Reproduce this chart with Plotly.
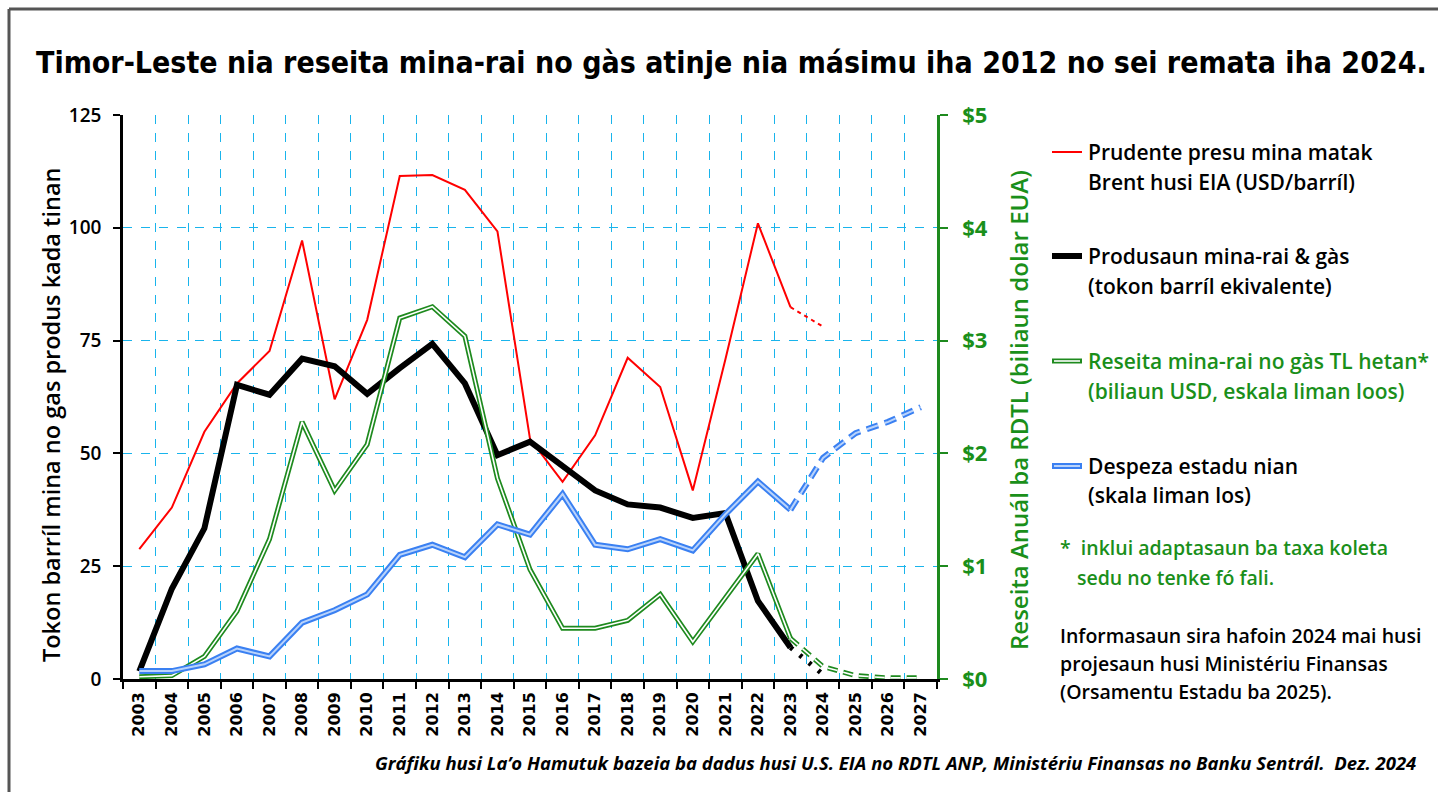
import plotly.graph_objects as go

# ---------------- data ----------------
years = list(range(2003, 2028))
year_labels = [str(y) for y in years]
hist_years = years[:21]                # 2003-2023
proj_years_short = [2023, 2024]
proj_years_long = years[20:]           # 2023-2027

# Brent prudent price (USD/barrel), left axis
brent_price = [28.8, 38.0, 54.8, 65.5, 72.7, 97.2, 62.0, 79.6, 111.5, 111.7, 108.4,
               99.2, 53.2, 43.7, 54.0, 71.2, 64.7, 41.8, 70.8, 101.0, 82.4]
brent_price_2024 = 78.1

# Oil & gas production (million barrels equivalent), left axis
production = [1.7, 20.0, 33.4, 65.2, 63.0, 71.0, 69.3, 63.2, 68.9, 74.3, 65.5,
              49.6, 52.6, 47.3, 41.8, 38.7, 38.0, 35.7, 36.8, 17.3, 7.0]
production_2024 = 1.0

# Petroleum revenue (billion USD), right axis
revenue = [0.02, 0.03, 0.20, 0.60, 1.24, 2.28, 1.67, 2.08, 3.20, 3.30, 3.04,
           1.78, 0.97, 0.45, 0.45, 0.52, 0.75, 0.33, 0.72, 1.11, 0.36]
revenue_proj = [0.11, 0.03, 0.01, 0.01]      # 2024-2027

# State spending (billion USD), right axis
spending = [0.07, 0.07, 0.13, 0.27, 0.20, 0.50, 0.61, 0.75, 1.10, 1.19, 1.08,
            1.37, 1.28, 1.64, 1.19, 1.15, 1.24, 1.14, 1.46, 1.75, 1.50]
spending_proj = [1.96, 2.18, 2.28, 2.41]     # 2024-2027

left_ticks = [0, 25, 50, 75, 100, 125]
right_ticks = [0, 1, 2, 3, 4, 5]
right_tick_text = ["$0", "$1", "$2", "$3", "$4", "$5"]

# ---------------- style ----------------
RED = "#ff0000"
BLACK = "#000000"
GREEN = "#1e8a1e"
GREEN_TXT = "#1a8f1a"
BLUE_OUT = "#3a80f2"
BLUE_IN = "#b9d3fb"
GRID = "#19b4ec"
BODY = "Open Sans, DejaVu Sans, sans-serif"

W, H = 1438, 792
PL, PR, PT, PB = 123, 937, 115, 679


def px(x):
    return (x - PL) / (PR - PL)


def py(y):
    return (PB - y) / (PB - PT)


fig = go.Figure()

# Brent price
fig.add_trace(go.Scatter(x=hist_years, y=brent_price, mode="lines",
                         line=dict(color=RED, width=2), yaxis="y"))
fig.add_trace(go.Scatter(x=proj_years_short, y=[brent_price[-1], brent_price_2024],
                         mode="lines", line=dict(color=RED, width=2, dash="4px,4px"),
                         yaxis="y"))

# Revenue (double green line)
rev_proj_full = [revenue[-1]] + revenue_proj
fig.add_trace(go.Scatter(x=hist_years, y=revenue, mode="lines",
                         line=dict(color=GREEN, width=5), yaxis="y2"))
fig.add_trace(go.Scatter(x=hist_years, y=revenue, mode="lines",
                         line=dict(color="white", width=1.6), yaxis="y2"))
fig.add_trace(go.Scatter(x=proj_years_long, y=rev_proj_full, mode="lines",
                         line=dict(color=GREEN, width=5, dash="10px,6px"), yaxis="y2"))
fig.add_trace(go.Scatter(x=proj_years_long, y=rev_proj_full, mode="lines",
                         line=dict(color="white", width=1.6, dash="10px,6px"), yaxis="y2"))

# Production
fig.add_trace(go.Scatter(x=hist_years, y=production, mode="lines",
                         line=dict(color=BLACK, width=6), yaxis="y"))
fig.add_trace(go.Scatter(x=proj_years_short, y=[production[-1], production_2024],
                         mode="lines", line=dict(color=BLACK, width=5, dash="3px,9px"),
                         yaxis="y"))

# Spending (double blue line)
sp_proj_full = [spending[-1]] + spending_proj
fig.add_trace(go.Scatter(x=hist_years, y=spending, mode="lines",
                         line=dict(color=BLUE_OUT, width=6), yaxis="y2"))
fig.add_trace(go.Scatter(x=hist_years, y=spending, mode="lines",
                         line=dict(color=BLUE_IN, width=2), yaxis="y2"))
fig.add_trace(go.Scatter(x=proj_years_long, y=sp_proj_full, mode="lines",
                         line=dict(color=BLUE_OUT, width=6, dash="12px,7px"), yaxis="y2"))
fig.add_trace(go.Scatter(x=proj_years_long, y=sp_proj_full, mode="lines",
                         line=dict(color=BLUE_IN, width=2, dash="12px,7px"), yaxis="y2"))

fig.update_traces(showlegend=False, hoverinfo="skip")

# ---------------- annotations ----------------
ann = []


def text(x, y, s, size=18, color=BLACK, xanchor="left", weight=600, family=BODY,
         angle=0, style="normal"):
    ann.append(dict(x=px(x), y=py(y), xref="paper", yref="paper", text=s,
                    showarrow=False, xanchor=xanchor, yanchor="middle",
                    textangle=angle,
                    font=dict(size=size, color=color, family=family, weight=weight,
                              style=style)))


text(731, 63, "Timor-Leste nia reseita mina-rai no gàs atinje nia másimu iha 2012 no sei remata iha 2024.",
     size=30, xanchor="center", weight=700,
     family="DejaVu Sans Condensed, Liberation Sans Narrow, DejaVu Sans, sans-serif")

text(51, 415, "Tokon barríl mina no gas produs kada tinan", size=23.5, xanchor="center",
     angle=-90)
text(1018, 410, "Reseita Anuál ba RDTL (biliaun dolar EUA)", size=24, xanchor="center",
     angle=-90, color=GREEN_TXT)

LX = 1086
LS = 21
text(LX, 152, "Prudente presu mina matak", size=LS)
text(LX, 182, "Brent husi EIA (USD/barríl)", size=LS)
text(LX, 256, "Produsaun mina-rai &amp; gàs", size=LS)
text(LX, 286, "(tokon barríl ekivalente)", size=LS)
text(LX, 361, "Reseita mina-rai no gàs TL hetan*", size=LS, color=GREEN_TXT)
text(LX, 391, "(biliaun USD, eskala liman loos)", size=LS, color=GREEN_TXT)
text(LX, 466, "Despeza estadu nian", size=LS)
text(LX, 495, "(skala liman los)", size=LS)

NS = 19.5
text(1058, 547, "*  inklui adaptasaun ba taxa koleta", size=NS, color=GREEN_TXT)
text(1075, 577, "sedu no tenke fó fali.", size=NS, color=GREEN_TXT)
text(1058, 635, "Informasaun sira hafoin 2024 mai husi", size=NS)
text(1058, 663, "projesaun husi Ministériu Finansas", size=NS)
text(1058, 691, "(Orsamentu Estadu ba 2025).", size=NS)

text(1418, 762, "Gráfiku husi La’o Hamutuk bazeia ba dadus husi U.S. EIA no RDTL ANP, Ministériu Finansas no Banku Sentrál.  Dez. 2024",
     size=18.5, xanchor="right", weight=700, style="italic")

# ---------------- legend samples & frame ----------------
shapes = []


def seg(x0, x1, y, color, width):
    shapes.append(dict(type="line", xref="paper", yref="paper",
                       x0=px(x0), x1=px(x1), y0=py(y), y1=py(y),
                       line=dict(color=color, width=width)))


seg(1052, 1082, 152, RED, 2)
seg(1052, 1082, 256, BLACK, 6)
seg(1052, 1082, 361, GREEN, 5)
seg(1054, 1080, 361, "white", 1.6)
seg(1052, 1082, 466, BLUE_OUT, 6)
seg(1054, 1080, 466, BLUE_IN, 2)

# outer frame (top and left edges)
shapes.append(dict(type="line", xref="paper", yref="paper", x0=px(9), x1=px(1438),
                   y0=py(9), y1=py(9), line=dict(color="#555555", width=3)))
shapes.append(dict(type="line", xref="paper", yref="paper", x0=px(9), x1=px(9),
                   y0=py(9), y1=py(792), line=dict(color="#555555", width=3)))

boundaries = [y - 0.5 for y in years] + [years[-1] + 0.5]

fig.update_layout(
    width=W, height=H,
    margin=dict(l=PL, r=W - PR, t=PT, b=H - PB),
    paper_bgcolor="white", plot_bgcolor="white",
    annotations=ann, shapes=shapes,
    xaxis=dict(range=[years[0] - 0.5, years[-1] + 0.5],
               tickvals=years, ticktext=year_labels, ticks="", showgrid=False,
               zeroline=False,
               minor=dict(tickvals=boundaries, ticks="outside", ticklen=7, tickwidth=2,
                          tickcolor=BLACK, showgrid=True, gridcolor=GRID,
                          griddash="dash", gridwidth=1),
               showline=True, linecolor=BLACK, linewidth=2.5,
               tickangle=-90, ticklabelstandoff=4,
               tickfont=dict(family="DejaVu Sans, sans-serif", size=16, color=BLACK,
                             weight=700)),
    yaxis=dict(range=[0, 125], tickvals=left_ticks,
               showgrid=True, gridcolor=GRID, griddash="dash", gridwidth=1,
               zeroline=False,
               ticks="outside", ticklen=7, tickwidth=2, tickcolor=BLACK,
               showline=True, linecolor=BLACK, linewidth=2.5,
               ticklabelstandoff=8,
               tickfont=dict(family=BODY, size=19, color=BLACK, weight=600)),
    yaxis2=dict(range=[0, 5], tickvals=right_ticks, ticktext=right_tick_text,
                overlaying="y", side="right", showgrid=False, zeroline=False,
                ticks="outside", ticklen=8, tickwidth=1.5, tickcolor=GREEN,
                showline=True, linecolor=GREEN, linewidth=2.5,
                ticklabelstandoff=10,
                tickfont=dict(family=BODY, size=22, color=GREEN_TXT, weight=700)),
)

fig.write_html("out.html", config={"displayModeBar": False},
               post_script="document.body.style.margin='0px';")
